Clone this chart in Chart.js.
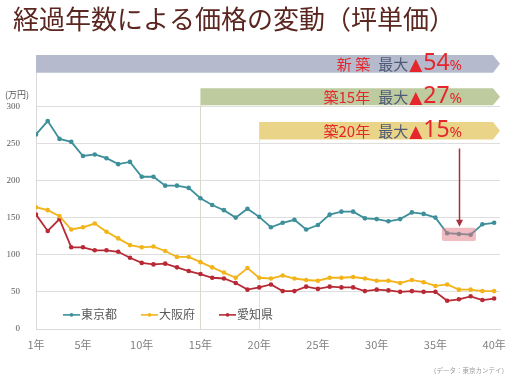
<!DOCTYPE html>
<html>
<head>
<meta charset="utf-8">
<script src="https://cdn.jsdelivr.net/npm/chart.js@4/dist/chart.umd.min.js"></script>
<style>
  html, body { margin: 0; padding: 0; background: #ffffff; }
  canvas { display: block; }
</style>
</head>
<body>
<canvas id="c" width="513" height="382"></canvas>
<script>
// ---- data ----
const years = [1,2,3,4,5,6,7,8,9,10,11,12,13,14,15,16,17,18,19,20,21,22,23,24,25,26,27,28,29,30,31,32,33,34,35,36,37,38,39,40];
const tokyo = [262,280,256,252,233,235,230,222,225,205,205,193,193,190,176,167,160,150,162,151,137,143,147,134,140,154,158,158,149,148,145,148,157,155,150,129,128,127,141,143];
const osaka = [164,160,152,134,137,142,131,122,113,110,111,105,97,97,90,83,76,69,82,69,68,72,68,66,65,69,69,70,68,65,65,62,66,63,58,60,53,53,51,51];
const aichi = [154,132,148,110,110,106,106,104,96,89,87,88,83,78,74,69,68,62,53,56,60,51,51,57,54,57,56,56,51,53,52,50,51,50,50,38,40,44,39,41];
const seriesNames = ['東京都', '大阪府', '愛知県'];
const tickYears = [1,5,10,15,20,25,30,35,40];
const yTicks = [0,50,100,150,200,250,300];
const bannerStartYears = [1, 15, 20];
const bannerPrefix = ['新 築', '築15年', '築20年'];
const bannerDrops = [54, 27, 15];
const highlightYears = [36, 37, 38];

const titleText = '経過年数による価格の変動（坪単価）';
const unitText = '(万円)';
const sourceText = '（データ：東京カンテイ）';

const colors = ['#3d8f99', '#f3b41b', '#b72a35'];
const bannerColors = ['#b5bbcd', '#bdcb9f', '#e9d487'];
const CJK = '"Noto Sans CJK JP", "Noto Sans", sans-serif';

function pts(arr) { return years.map((y, i) => ({ x: y, y: arr[i] })); }

const decor = {
  id: 'decor',
  afterLayout(chart) {
    if (chart.titleBlock) chart.titleBlock.left = 13;
  },
  beforeDatasetsDraw(chart) {
    const { ctx, chartArea: a, scales: { x, y } } = chart;
    // banner rows expressed in value units of the y scale
    const rows = [[369, 345], [324.3, 301.3], [278.8, 255.1]];
    ctx.save();
    ctx.lineWidth = 1;
    ctx.strokeStyle = '#d9d9d9';
    ctx.beginPath();
    ctx.moveTo(a.left + 0.5, y.getPixelForValue(rows[0][1]));
    ctx.lineTo(a.left + 0.5, a.bottom);
    ctx.stroke();
    const vColors = [null, '#d9dacb', '#f0e3b4'];
    for (let i = 1; i < 3; i++) {
      const px = Math.round(x.getPixelForValue(bannerStartYears[i])) + 0.5;
      ctx.strokeStyle = vColors[i];
      ctx.beginPath();
      ctx.moveTo(px, y.getPixelForValue(rows[i][1]));
      ctx.lineTo(px, a.bottom);
      ctx.stroke();
    }
    for (let i = 0; i < 3; i++) {
      const x0 = x.getPixelForValue(bannerStartYears[i]);
      const t = y.getPixelForValue(rows[i][0]);
      const b = y.getPixelForValue(rows[i][1]);
      const r = a.right;
      ctx.fillStyle = bannerColors[i];
      ctx.beginPath();
      ctx.moveTo(x0, t);
      ctx.lineTo(r - 7, t);
      ctx.lineTo(r, (t + b) / 2);
      ctx.lineTo(r - 7, b);
      ctx.lineTo(x0, b);
      ctx.closePath();
      ctx.fill();
      const segs = [
        { t: bannerPrefix[i], f: '15px ' + CJK, c: '#e5262c', gap: 8 },
        { t: '最大', f: '15px ' + CJK, c: '#4f5a78', gap: 1 },
        { t: '▲', f: '17px "DejaVu Sans", sans-serif', c: '#e5262c', gap: 1 },
        { t: String(bannerDrops[i]), f: '23px "Noto Sans", sans-serif', c: '#e5262c', gap: 0 },
        { t: '%', f: '15px "Noto Sans", sans-serif', c: '#e5262c', gap: 0 }
      ];
      let total = 0;
      segs.forEach(s => { ctx.font = s.f; s.w = ctx.measureText(s.t).width; total += s.w + s.gap; });
      let cx = r - 38 - total;
      const base = b - 2.5;
      ctx.textAlign = 'left';
      ctx.textBaseline = 'alphabetic';
      segs.forEach(s => {
        ctx.font = s.f; ctx.fillStyle = s.c;
        ctx.fillText(s.t, cx, base);
        cx += s.w + s.gap;
      });
    }
    ctx.restore();
  },
  afterDatasetsDraw(chart) {
    const { ctx, chartArea: a, scales: { x, y } } = chart;
    ctx.save();
    const hx0 = x.getPixelForValue(highlightYears[0] - 0.45);
    const hx1 = x.getPixelForValue(highlightYears[2] + 0.45);
    const hy0 = y.getPixelForValue(136.5);
    const hy1 = y.getPixelForValue(118.5);
    ctx.fillStyle = 'rgba(226,120,132,0.5)';
    ctx.beginPath();
    if (ctx.roundRect) ctx.roundRect(hx0, hy0, hx1 - hx0, hy1 - hy0, 2); else ctx.rect(hx0, hy0, hx1 - hx0, hy1 - hy0);
    ctx.fill();
    const ax = Math.round(x.getPixelForValue(highlightYears[1])) + 0.5;
    const ay0 = y.getPixelForValue(255.1) + 9;
    const ay1 = hy0 - 1;
    ctx.strokeStyle = '#a8303c';
    ctx.fillStyle = '#a8303c';
    ctx.lineWidth = 1.5;
    ctx.beginPath();
    ctx.moveTo(ax, ay0);
    ctx.lineTo(ax, ay1 - 5);
    ctx.stroke();
    ctx.beginPath();
    ctx.moveTo(ax - 3.5, ay1 - 7);
    ctx.lineTo(ax + 3.5, ay1 - 7);
    ctx.lineTo(ax, ay1);
    ctx.closePath();
    ctx.fill();
    // legend
    let lx = a.left + 27;
    const ly = y.getPixelForValue(19);
    ctx.textAlign = 'left';
    ctx.textBaseline = 'middle';
    chart.data.datasets.forEach((ds) => {
      ctx.strokeStyle = ds.borderColor;
      ctx.fillStyle = ds.borderColor;
      ctx.lineWidth = 1.6;
      ctx.beginPath();
      ctx.moveTo(lx, ly);
      ctx.lineTo(lx + 17, ly);
      ctx.stroke();
      ctx.beginPath();
      ctx.arc(lx + 8.5, ly, 1.8, 0, Math.PI * 2);
      ctx.fill();
      ctx.font = '12px ' + CJK;
      ctx.fillStyle = '#595959';
      ctx.fillText(ds.label, lx + 18, ly);
      lx += 18 + ctx.measureText(ds.label).width + 24;
    });
    ctx.font = '9px ' + CJK;
    ctx.fillStyle = '#595959';
    ctx.textBaseline = 'middle';
    ctx.fillText(unitText, 5, a.top - 12);
    ctx.font = '6.5px ' + CJK;
    ctx.fillStyle = '#9a9a9a';
    ctx.textAlign = 'right';
    ctx.fillText(sourceText, chart.width - 5, 371);
    ctx.restore();
  }
};

new Chart(document.getElementById('c'), {
  type: 'line',
  data: {
    datasets: [tokyo, osaka, aichi].map((arr, i) => ({
      label: seriesNames[i],
      data: pts(arr),
      borderColor: colors[i],
      backgroundColor: colors[i],
      pointBackgroundColor: colors[i],
      pointBorderColor: colors[i],
      borderWidth: 1.8,
      pointRadius: 2.3,
      pointBorderWidth: 0,
      tension: 0,
      fill: false
    }))
  },
  options: {
    responsive: false,
    devicePixelRatio: 1,
    animation: false,
    layout: { padding: { left: 0, right: 13, top: 0, bottom: 0 } },
    plugins: {
      legend: { display: false },
      tooltip: { enabled: false },
      title: {
        display: true,
        text: titleText,
        align: 'start',
        color: '#5a261f',
        font: { family: CJK, size: 26, weight: 'normal' },
        padding: { top: 4, bottom: 71 }
      }
    },
    scales: {
      x: {
        type: 'linear',
        min: 1,
        max: 40.5,
        afterBuildTicks: s => { s.ticks = tickYears.map(v => ({ value: v })); },
        afterFit: s => { s.height = 53; },
        grid: { display: false },
        border: { display: true, color: '#d9d9d9' },
        ticks: {
          autoSkip: false,
          maxRotation: 0,
          padding: 1,
          color: '#808080',
          font: { family: CJK, size: 11 },
          callback: v => v + '年'
        }
      },
      y: {
        min: 0,
        max: 300,
        afterBuildTicks: s => { s.ticks = yTicks.map(v => ({ value: v })); },
        afterFit: s => { s.width = 36; },
        grid: { color: '#dedede', drawTicks: false },
        border: { display: true, color: '#d9d9d9' },
        ticks: {
          padding: 16,
          color: '#595959',
          font: { family: '"Liberation Serif", serif', size: 9 }
        }
      }
    }
  },
  plugins: [decor]
});
</script>
</body>
</html>
